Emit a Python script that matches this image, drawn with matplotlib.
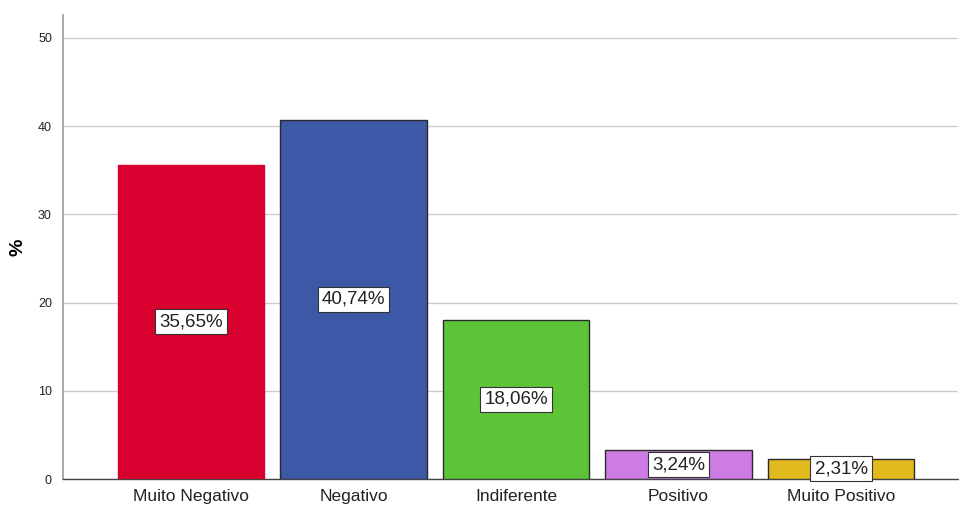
import matplotlib.pyplot as plt

plt.rcParams['font.family'] = ['Liberation Sans', 'DejaVu Sans']

# dados
categorias = ['Muito Negativo', 'Negativo', 'Indiferente', 'Positivo', 'Muito Positivo']
percentuais = [35.65, 40.74, 18.06, 3.24, 2.31]
cores = ['#D7002F', '#3E58A8', '#5DC438', '#CC7CE2', '#E2BA1E']
bordas = ['#D7002F', '#2a2a2a', '#2a2a2a', '#2a2a2a', '#2a2a2a']
rotulos = ['35,65%', '40,74%', '18,06%', '3,24%', '2,31%']

fig = plt.figure(figsize=(9.59, 5.09), dpi=100)
ax = fig.add_axes([0.0657, 0.0589, 0.9333, 0.9116])

x = list(range(len(categorias)))
ax.bar(x, percentuais, width=0.9, color=cores, edgecolor=bordas, linewidth=1, zorder=3)

for xi, v, txt in zip(x, percentuais, rotulos):
    ax.text(xi, v / 2, txt, ha='center', va='center', fontsize=13.5, color='#222222',
            bbox=dict(boxstyle='square,pad=0.22', facecolor='white', edgecolor='#333333', linewidth=0.8),
            zorder=4)

ax.set_xlim(-0.788, 4.72)
ax.set_ylim(0, 52.6)
ax.set_yticks([0, 10, 20, 30, 40, 50])
ax.set_xticks(x)
ax.set_xticklabels(categorias, fontsize=12.5, color='#222222')
ax.tick_params(axis='y', length=0, labelsize=9, pad=8, colors='#222222')
ax.tick_params(axis='x', length=0, pad=7)

ax.grid(axis='y', color='#cccccc', linewidth=1, zorder=0)
ax.spines['top'].set_visible(False)
ax.spines['right'].set_visible(False)
ax.spines['left'].set_color('#999999')
ax.spines['left'].set_linewidth(1.2)
ax.spines['bottom'].set_color('#444444')
ax.spines['bottom'].set_linewidth(1)

ax.set_ylabel('%', fontsize=14, fontweight='bold', labelpad=8)

fig.savefig('out.png', dpi=100)
